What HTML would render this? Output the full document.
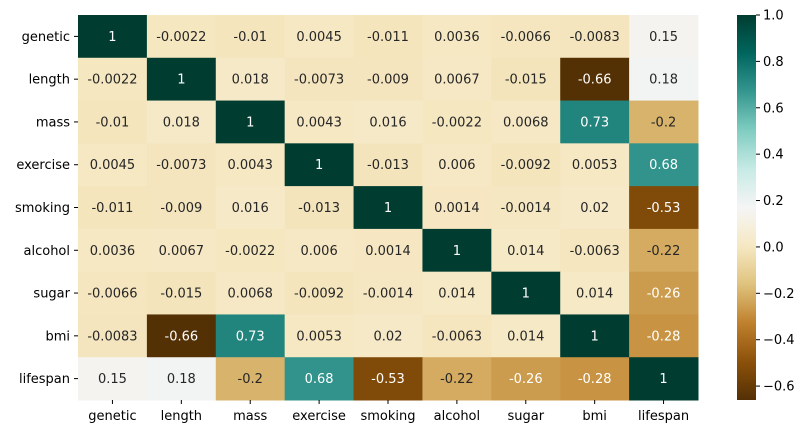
<!DOCTYPE html>
<html><head><meta charset="utf-8"><style>
body{margin:0;background:#fff;font-family:"Liberation Sans","DejaVu Sans",sans-serif;}
svg text{font-family:"DejaVu Sans","Liberation Sans",sans-serif;}
</style></head><body>
<svg id="c" width="809" height="434" xmlns="http://www.w3.org/2000/svg"></svg>
<script>
const labels=["genetic","length","mass","exercise","smoking","alcohol","sugar","bmi","lifespan"];
const row0=[1,-0.0022,-0.01,0.0045,-0.011,0.0036,-0.0066,-0.0083,0.15];
const row1=[-0.0022,1,0.018,-0.0073,-0.009,0.0067,-0.015,-0.66,0.18];
const row2=[-0.01,0.018,1,0.0043,0.016,-0.0022,0.0068,0.73,-0.2];
const row3=[0.0045,-0.0073,0.0043,1,-0.013,0.006,-0.0092,0.0053,0.68];
const row4=[-0.011,-0.009,0.016,-0.013,1,0.0014,-0.0014,0.02,-0.53];
const row5=[0.0036,0.0067,-0.0022,0.006,0.0014,1,0.014,-0.0063,-0.22];
const row6=[-0.0066,-0.015,0.0068,-0.0092,-0.0014,0.014,1,0.014,-0.26];
const row7=[-0.0083,-0.66,0.73,0.0053,0.02,-0.0063,0.014,1,-0.28];
const row8=[0.15,0.18,-0.2,0.68,-0.53,-0.22,-0.26,-0.28,1];
const rows=[row0,row1,row2,row3,row4,row5,row6,row7,row8];
const cbTicks=[1.0,0.8,0.6,0.4,0.2,0.0,-0.2,-0.4,-0.6];
const vmin=-0.66,vmax=1;
const L=78,T=15,W=620,H=385;
const cw=W/9,ch=H/9;
const CBX=737,CBW=19,CBT=15,CBB=400;
const stops=[[84,48,5],[140,81,10],[191,129,45],[223,194,125],[246,232,195],[245,245,245],[199,234,229],[128,205,193],[53,151,143],[1,102,94],[0,60,48]];
function cmap(v){let t=(v-vmin)/(vmax-vmin);t=Math.max(0,Math.min(1,t));const p=t*10,i=Math.min(9,Math.floor(p)),f=p-i;
 const a=stops[i],b=stops[i+1];return [0,1,2].map(k=>Math.round(a[k]+(b[k]-a[k])*f));}
function lum(c){const l=c.map(x=>{x/=255;return x<=0.03928?x/12.92:Math.pow((x+0.055)/1.055,2.4)});return 0.2126*l[0]+0.7152*l[1]+0.0722*l[2];}
const xS=j=>L+j*cw, yS=i=>T+i*ch;
const cbY=v=>CBT+(vmax-v)/(vmax-vmin)*(CBB-CBT);
const svg=document.getElementById('c');const NS="http://www.w3.org/2000/svg";
function mk(t,a,txt){const e=document.createElementNS(NS,t);for(const k in a)e.setAttribute(k,a[k]);if(txt!==undefined)e.textContent=txt;svg.appendChild(e);return e;}
rows.forEach((r,i)=>r.forEach((v,j)=>{
 const c=cmap(v);
 const rc=mk('rect',{x:xS(j),y:yS(i),width:cw+0.5,height:ch+0.5,fill:`rgb(${c})`});
 
 
 const tx=mk('text',{x:xS(j)+cw/2,y:yS(i)+ch/2+4.5,'text-anchor':'middle','font-size':13,fill:lum(c)<0.408?'#fff':'#262626'},String(v));
 
 
}));
labels.forEach((l,i)=>{
 const y=yS(i)+ch/2;
 mk('line',{x1:L-4,x2:L,y1:y,y2:y,stroke:'#000'});
 const t=mk('text',{x:L-8,y:y+4.5,'text-anchor':'end','font-size':13,fill:'#000'},l);
 
 
 const x=xS(i)+cw/2;
 mk('line',{x1:x,x2:x,y1:T+H,y2:T+H+4,stroke:'#000'});
 const t2=mk('text',{x:x,y:T+H+20,'text-anchor':'middle','font-size':13,fill:'#000'},l);
 
 
});
const defs=mk('defs',{});
const g=document.createElementNS(NS,'linearGradient');g.setAttribute('id','cb');g.setAttribute('x1','0');g.setAttribute('y1','1');g.setAttribute('x2','0');g.setAttribute('y2','0');defs.appendChild(g);
for(let k=0;k<=40;k++){const v=vmin+(vmax-vmin)*k/40;const s=document.createElementNS(NS,'stop');s.setAttribute('offset',k/40);s.setAttribute('stop-color',`rgb(${cmap(v)})`);g.appendChild(s);}
const cb=mk('rect',{x:CBX,y:CBT,width:CBW,height:CBB-CBT,fill:'url(#cb)'});


cbTicks.forEach(v=>{const y=cbY(v);
 mk('line',{x1:CBX+CBW,x2:CBX+CBW+4,y1:y,y2:y,stroke:'#000'});
 const t=mk('text',{x:CBX+CBW+7,y:y+4.5,'font-size':13,fill:'#000'},(v<0?'\u2212':'')+Math.abs(v).toFixed(1));
 
 
});
</script>
</body></html>
